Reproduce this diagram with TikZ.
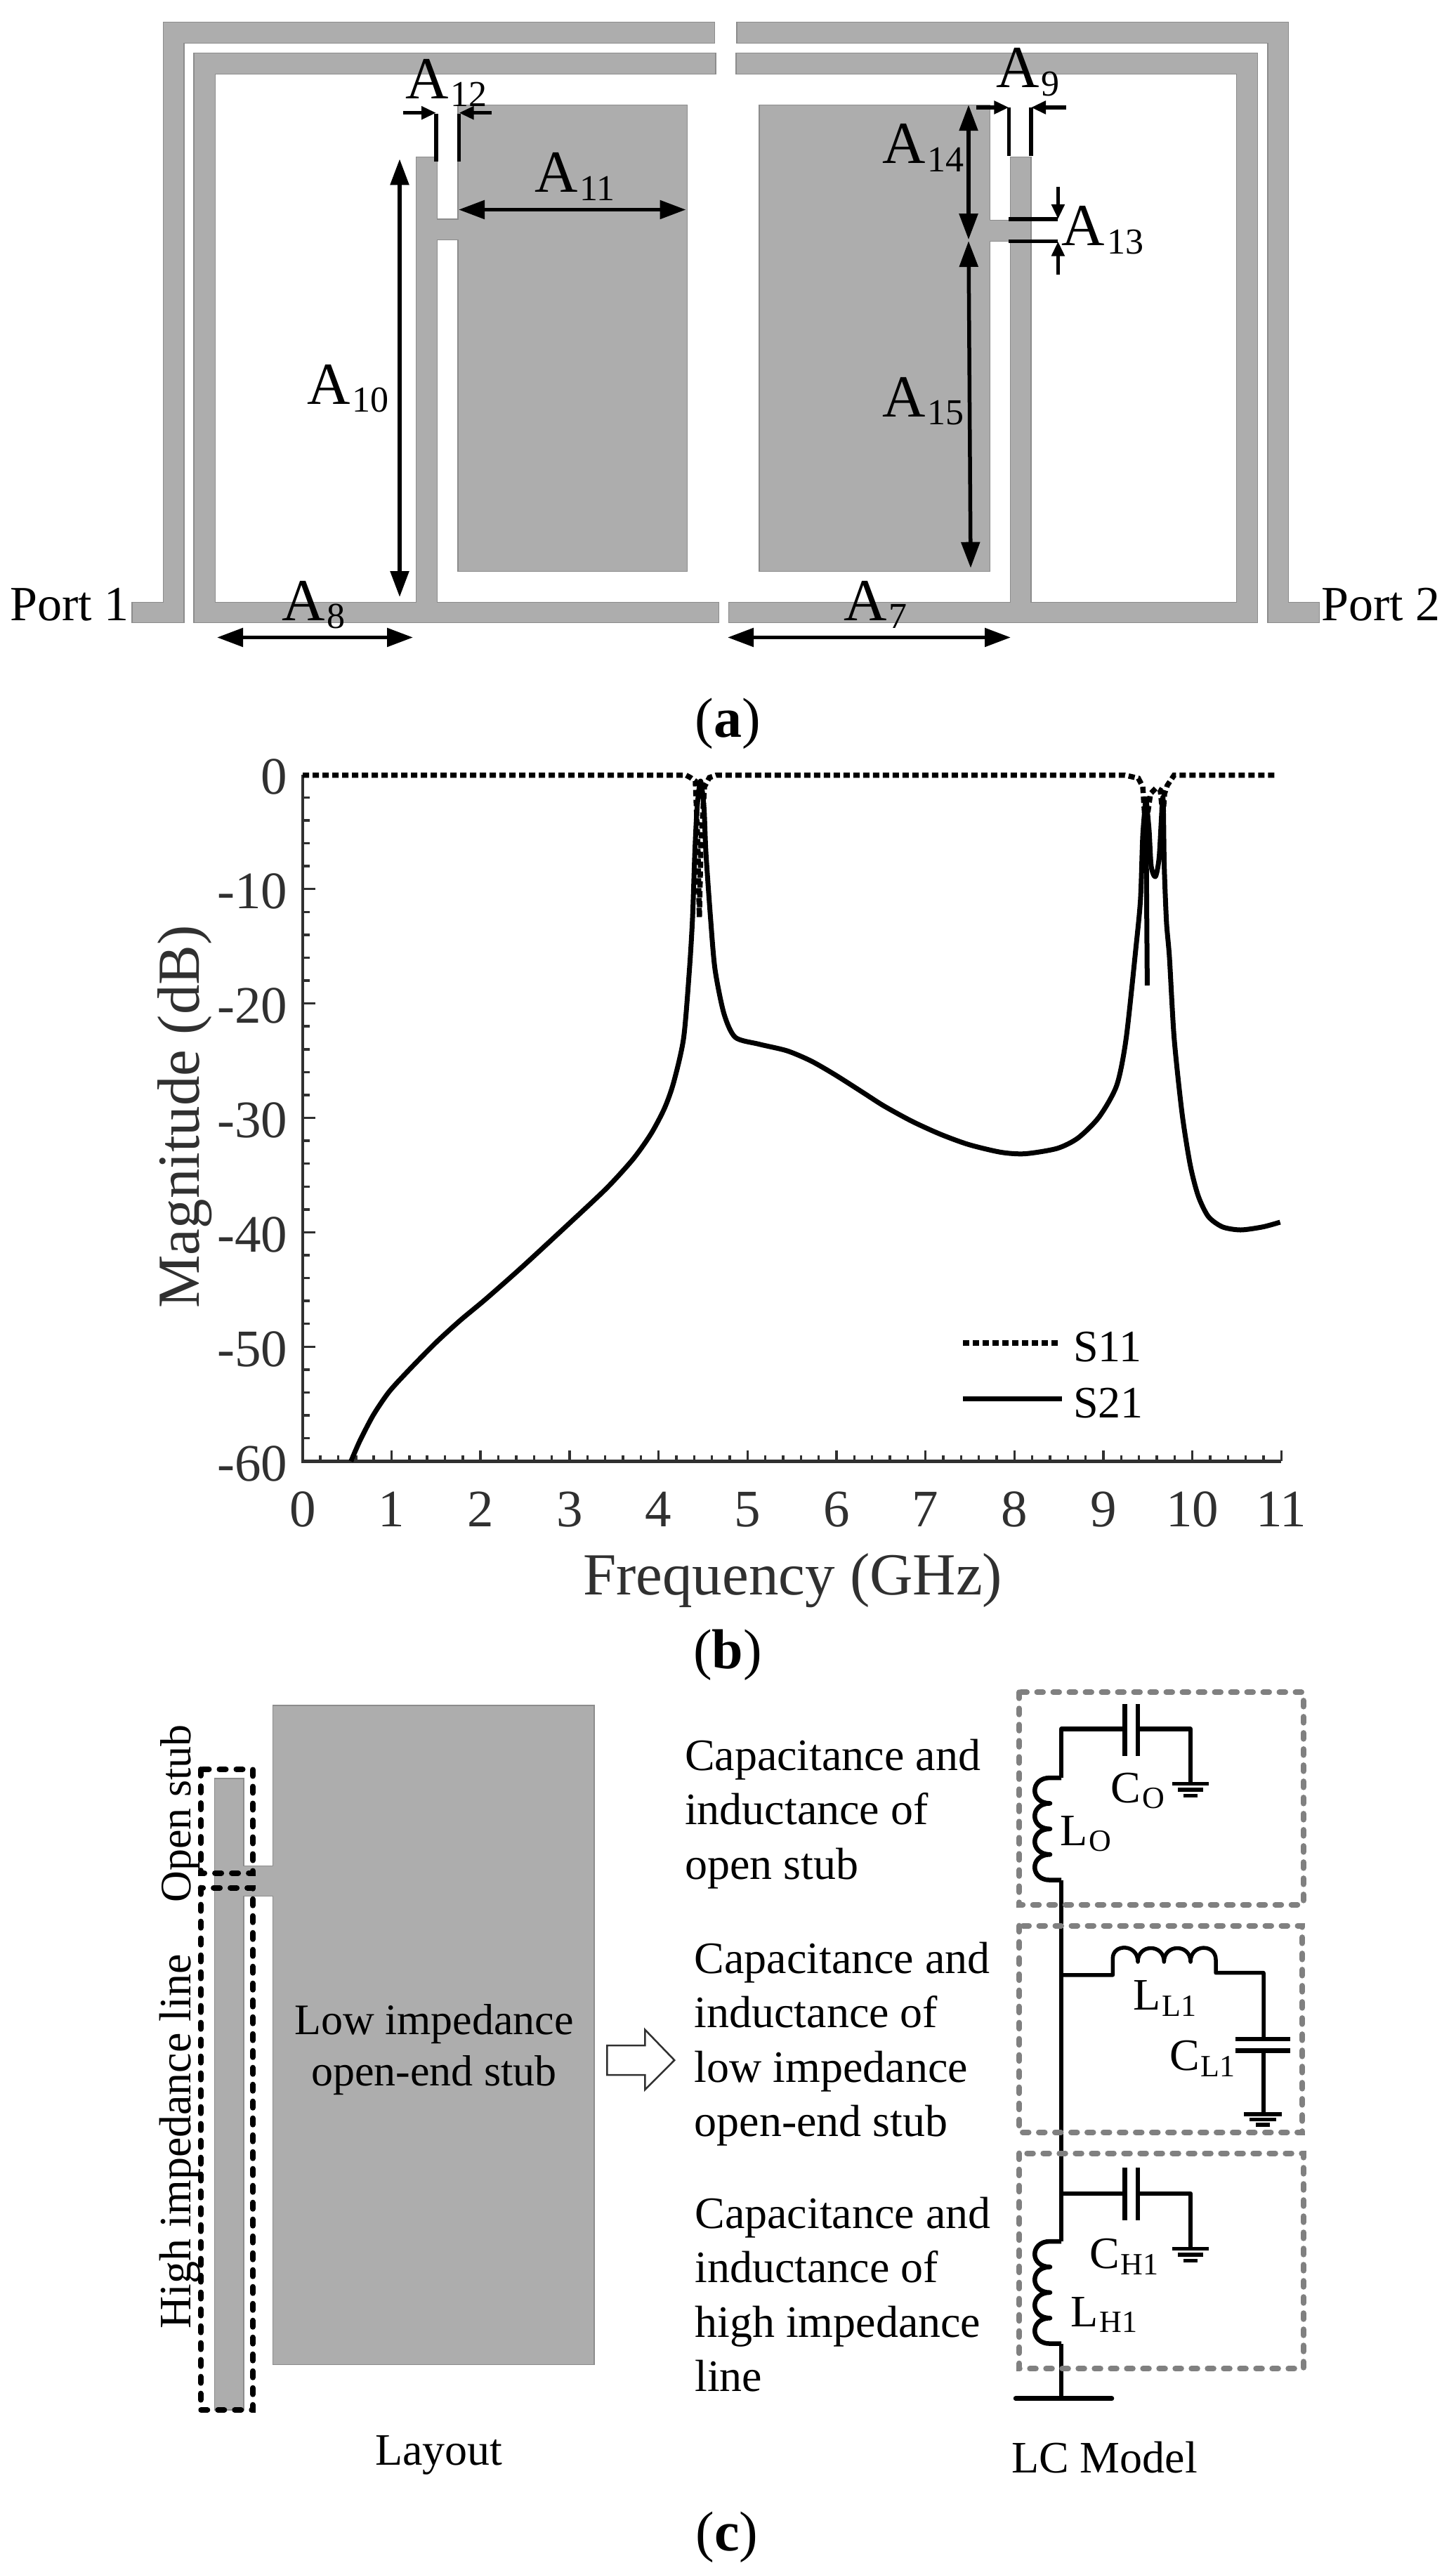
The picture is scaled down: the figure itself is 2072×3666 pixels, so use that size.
\documentclass[tikz,border=0pt]{standalone}
\usepackage{fontspec}
\setmainfont{Liberation Serif}
\usetikzlibrary{arrows.meta}
\definecolor{stripfill}{HTML}{ADADAD}
\definecolor{stripedge}{HTML}{8C8C8C}
\definecolor{axisink}{HTML}{303030}
\definecolor{boxgrey}{HTML}{808080}
\tikzset{
  strip/.style={fill=stripfill,draw=stripedge,line width=1.2pt},
  lab/.style={anchor=base west,inner sep=0pt,outer sep=0pt,font=\fontsize{#1}{#1}\selectfont},
  capt/.style={anchor=base,inner sep=0pt,outer sep=0pt,font=\fontsize{80}{80}\selectfont},
  para/.style={anchor=base west,inner sep=0pt,outer sep=0pt,align=left,font=\fontsize{64}{77.5}\selectfont},
  vlab/.style={anchor=base west,rotate=90,inner sep=0pt,outer sep=0pt,font=\fontsize{#1}{#1}\selectfont},
  ticklab/.style={inner sep=0pt,outer sep=0pt,text=axisink,font=\fontsize{75}{75}\selectfont},
  bigdim/.style={line width=5.5pt,{Triangle[length=37pt,width=26pt]}-{Triangle[length=37pt,width=26pt]}},
  smalldim/.style={line width=5.5pt,-{Triangle[length=21pt,width=18pt]}},
  extline/.style={line width=5.5pt},
  axisline/.style={draw=axisink,line width=4.5pt},
  tickline/.style={draw=axisink,line width=3.5pt},
  sdot/.style={line width=7.5pt,dash pattern=on 9pt off 5pt},
  ssolid/.style={line width=7pt},
  greybox/.style={draw=boxgrey,line width=8pt,line cap=round,dash pattern=on 8.5pt off 14.5pt},
  blackbox/.style={draw=black,line width=8pt,line cap=round,dash pattern=on 9pt off 15pt},
  wire/.style={line width=6.5pt,line join=round},
  thinwire/.style={line width=5.5pt,line join=round},
  gnd/.style={line width=5.5pt},
}
\newcommand\Asub[2]{#1\raisebox{-11.5pt}{\hspace{3pt}\fontsize{52}{52}\selectfont #2}}
\newcommand\Csub[2]{#1\raisebox{-8.5pt}{\hspace{2pt}\fontsize{44}{44}\selectfont #2}}
\newcommand\coilV[1]{%
  \draw[wire] (1511,#1) -- (1495,#1)
    .. controls (1466,#1) and (1466,{#1+36.4}) .. (1495,{#1+36.4})
    .. controls (1466,{#1+36.4}) and (1466,{#1+72.8}) .. (1495,{#1+72.8})
    .. controls (1466,{#1+72.8}) and (1466,{#1+109.2}) .. (1495,{#1+109.2})
    .. controls (1466,{#1+109.2}) and (1466,{#1+145.6}) .. (1495,{#1+145.6})
    -- (1511,{#1+145.6});}
\newcommand\gndV[4]{% x, y, half-width, bar spacing
  \draw[gnd] ({#1-#3},#2) -- ({#1+#3},#2);
  \draw[gnd] ({#1-0.7*#3},{#2+#4}) -- ({#1+0.7*#3},{#2+#4});
  \draw[gnd] ({#1-0.38*#3},{#2+2*#4}) -- ({#1+0.38*#3},{#2+2*#4});}
\begin{document}
\begin{tikzpicture}[x=1pt,y=-1pt]
\useasboundingbox[fill=white] (0,0) rectangle (2072,3666);

% ---------- panel (a): layout
\draw[strip] (188,886.5) -- (262,886.5) -- (262,61.2) -- (1017.5,61.2) -- (1017.5,31.9) -- (232.6,31.9) -- (232.6,857.8) -- (188,857.8) -- cycle;
\draw[strip] (276,75.9) -- (1019,75.9) -- (1019,105.2) -- (306.6,105.2) -- (306.6,857.8) -- (592.7,857.8) -- (592.7,223.9) -- (622.4,223.9) -- (622.4,311.9) -- (652,311.9) -- (652,149.2) -- (978.5,149.2) -- (978.5,813.1) -- (652,813.1) -- (652,341.2) -- (622.4,341.2) -- (622.4,857.8) -- (1023.5,857.8) -- (1023.5,886.5) -- (276,886.5) -- cycle;
\draw[strip] (1049,31.9) -- (1834.8,31.9) -- (1834.8,857.8) -- (1878.4,857.8) -- (1878.4,886.5) -- (1805,886.5) -- (1805,61.2) -- (1049,61.2) -- cycle;
\draw[strip] (1048,75.9) -- (1790.5,75.9) -- (1790.5,886.5) -- (1037.3,886.5) -- (1037.3,857.8) -- (1438.4,857.8) -- (1438.4,343.7) -- (1409.3,343.7) -- (1409.3,813.1) -- (1081,813.1) -- (1081,149.2) -- (1409.3,149.2) -- (1409.3,313.8) -- (1438.4,313.8) -- (1438.4,223.9) -- (1468,223.9) -- (1468,857.8) -- (1760.8,857.8) -- (1760.8,105.2) -- (1048,105.2) -- cycle;

% dimension lines left
\draw[extline] (621,162) -- (621,229.6);
\draw[extline] (653.5,162) -- (653.5,229.6);
\draw[smalldim] (573.5,160.7) -- (621,160.7);
\draw[smalldim] (700,160.7) -- (653.5,160.7);
\draw[bigdim] (569,226.4) -- (569,850);
\draw[bigdim] (653,298.5) -- (976.5,298.5);
\draw[bigdim] (309,907.5) -- (588,907.5);
% dimension lines right
\draw[extline] (1436.4,153) -- (1436.4,222);
\draw[extline] (1468,153) -- (1468,222);
\draw[smalldim] (1389.5,153) -- (1436.4,153);
\draw[smalldim] (1517.7,153) -- (1468,153);
\draw[bigdim] (1379,149.2) -- (1379,341.2);
\draw[bigdim] (1379,343) -- (1382,808.7);
\draw[extline] (1436.4,311.9) -- (1506.4,311.9);
\draw[extline] (1436.4,343.7) -- (1506.4,343.7);
\draw[smalldim] (1506.4,266) -- (1506.4,311.9);
\draw[smalldim] (1506.4,391) -- (1506.4,343.7);
\draw[bigdim] (1036,907.5) -- (1439,907.5);

\node[lab=85] (a12) at (577,140.3) {\Asub{A}{12}};
\node[lab=85] (a11) at (761,274) {\Asub{A}{11}};
\node[lab=85] (a10) at (437,575) {\Asub{A}{10}};
\node[lab=85] (a8)  at (401,883) {\Asub{A}{8}};
\node[lab=85] (a9)  at (1418,125) {\Asub{A}{9}};
\node[lab=85] (a14) at (1256,232.8) {\Asub{A}{14}};
\node[lab=85] (a15) at (1256,593) {\Asub{A}{15}};
\node[lab=85] (a13) at (1511.7,349.5) {\Asub{A}{13}};
\node[lab=85] (a7)  at (1201,883) {\Asub{A}{7}};
\node[lab=70] (p1)  at (14.5,883) {Port 1};
\node[lab=70] (p2)  at (1881.7,883) {Port 2};
\node[capt] (capa) at (1036,1049.3) {(\textbf{a})};

% ---------- panel (b): plot
\foreach \i in {1,...,29}{
  \ifnum\numexpr\i/5*5\relax=\i\relax
    \draw[tickline] (430.9,{1102.8+\i*32.58}) -- ++(18,0);
  \else
    \draw[tickline] (430.9,{1102.8+\i*32.58}) -- ++(10,0);
  \fi}
\foreach \i in {1,...,55}{
  \ifnum\numexpr\i/5*5\relax=\i\relax
    \draw[tickline] ({430.9+\i*25.334},2080.4) -- ++(0,-15);
  \else
    \draw[tickline] ({430.9+\i*25.334},2080.4) -- ++(0,-8);
  \fi}
\draw[axisline] (430.9,1102.8) -- (430.9,2080.4) -- (1824.3,2080.4);

\foreach \v/\n [count=\k from 0] in {0/yt0,-10/yt1,-20/yt2,-30/yt3,-40/yt4,-50/yt5,-60/yt6}
  \node[ticklab,anchor=base east] (\n) at (409,{1130.8+\k*162.93}) {\v};
\foreach \v [count=\k from 0] in {0,1,2,3,4,5,6,7,8,9,10,11}
  \node[ticklab,anchor=base] (xt\k) at ({430.9+\k*126.67},2173.6) {\v};

\node[vlab=85,text=axisink] (ylab) at (283,1862.6) {Magnitude (dB)};
\node[lab=85,text=axisink] (xlab) at (830,2270) {Frequency (GHz)};

% S11
\draw[sdot] (431,1103.5) -- (976.5,1103.5) -- (983,1107) -- (990,1112) -- (993.5,1200) -- (995.7,1306) -- (998,1200) -- (1003,1120) -- (1010,1107) -- (1020,1103.5) -- (1601.5,1103.5) -- (1620.7,1108) -- (1627,1120) -- (1631,1180) -- (1638,1130) -- (1646,1121.7) -- (1652,1125) -- (1655.7,1163) -- (1658,1130) -- (1662,1118) -- (1671.7,1103.5) -- (1818,1103.5);
% S21
\draw[ssolid,line join=round] plot[smooth,tension=0.45] coordinates {
(499.7,2080.4) (512.5,2051) (531.6,2014.4) (554,1981.4) (582.7,1950) (620,1912) (655,1880) (691,1850) (742,1805) (805.9,1746) (863.3,1692) (901.5,1650) (927,1614) (946,1578) (959,1541.4) (973.3,1478) (981.6,1380) (986,1306.7) (989.3,1213) (992.5,1150) (997.4,1112) (1002.3,1150) (1005,1213) (1011.6,1306.7) (1018,1380) (1030.7,1443) (1046.7,1476.7) (1080,1486.4) (1120.6,1496) (1155,1510.6) (1189.4,1530.4) (1229.6,1556) (1258.3,1574.4) (1298.5,1596.4) (1338.7,1614.7) (1378.9,1629.4) (1424.8,1640.4) (1459.2,1642.6) (1505,1635) (1535,1620) (1565,1590) (1590,1545) (1603.4,1478) (1617.5,1347) (1623.8,1280) (1627,1190) (1631.5,1134)};
\draw[ssolid,line join=round] (1631.5,1134) -- (1633.4,1403);
\draw[ssolid,line join=round] plot[smooth,tension=0.45] coordinates {
(1631.5,1134) (1636,1182) (1639,1233) (1645,1248) (1650.4,1220) (1655.7,1135) (1657.6,1233) (1660.8,1313) (1665,1363) (1671.7,1478) (1683,1585.4) (1694.6,1658.7) (1706,1702.7) (1720.4,1732) (1740.5,1746.7) (1766.4,1751) (1798,1746.7) (1822.6,1740)};
% legend
\draw[sdot] (1371.4,1911.8) -- (1508,1911.8);
\draw[ssolid] (1371.4,1991.7) -- (1512,1991.7);
\node[lab=64,text=black] (s11) at (1528,1938.9) {S11};
\node[lab=64,text=black] (s21) at (1528,2018) {S21};
\node[capt] (capb) at (1036,2375) {(\textbf{b})};

% ---------- panel (c): layout
\draw[strip] (305.6,2532) -- (347,2532) -- (347,2656.8) -- (388.3,2656.8) -- (388.3,2428) -- (846,2428) -- (846,3366.7) -- (388.3,3366.7) -- (388.3,2699.5) -- (347,2699.5) -- (347,3431) -- (305.6,3431) -- cycle;
\draw[blackbox] (285.7,2519) rectangle (360,2666.6);
\draw[blackbox] (285.7,2687.6) rectangle (360,3431);
\node[vlab=62] (open) at (271.4,2708.7) {Open stub};
\node[vlab=64] (high) at (271.4,3315.5) {High impedance line};
\node[anchor=base,inner sep=0pt,align=center,font=\fontsize{62}{73.6}\selectfont] (low) at (618,2969.6) {Low impedance\\open-end stub};
\node[lab=64] (layout) at (534,3509) {Layout};
\draw[draw=axisink,fill=white,line width=2.5pt,line join=miter] (864.3,2912) -- (918.4,2912) -- (918.4,2889.7) -- (960.2,2933) -- (918.4,2975) -- (918.4,2954) -- (864.3,2954) -- cycle;

\node[para] (t1) at (975,2675) {Capacitance and\\inductance of\\open stub};
\node[para] (t2) at (988.6,3041.9) {Capacitance and\\inductance of\\low impedance\\open-end stub};
\node[para] (t3) at (989.3,3404.6) {Capacitance and\\inductance of\\high impedance\\line};

% ---------- panel (c): LC model
\draw[wire] (1511,2531) -- (1511,2461.6) -- (1603,2461.6);
\draw[wire] (1601.7,2426) -- (1601.7,2500);
\draw[wire] (1620,2426) -- (1620,2500);
\draw[wire] (1620,2461.6) -- (1695,2461.6) -- (1695,2539.4);
\gndV{1695}{2539.4}{25.7}{8.5}
\coilV{2531}
\draw[wire] (1511,2676.6) -- (1511,3191);
\draw[thinwire] (1511,2811.8) -- (1584.3,2811.8) -- (1584.3,2788)
  .. controls (1584.3,2767) and (1620,2767) .. (1620,2793)
  .. controls (1620,2767) and (1657.3,2767) .. (1657.3,2793)
  .. controls (1657.3,2767) and (1695,2767) .. (1695,2793)
  .. controls (1695,2767) and (1731,2767) .. (1731,2790)
  -- (1731,2808.6) -- (1799,2808.6) -- (1799,2903);
\draw[wire] (1759.3,2903) -- (1836.7,2903);
\draw[wire] (1759.3,2919.5) -- (1836.7,2919.5);
\draw[wire] (1799,2919.5) -- (1799,3010);
\gndV{1798}{3010}{27}{7.5}
\draw[thinwire] (1511,3123) -- (1603,3123);
\draw[wire] (1601.7,3086) -- (1601.7,3161);
\draw[wire] (1620,3086) -- (1620,3161);
\draw[wire] (1620,3123) -- (1695,3123) -- (1695,3201.4);
\gndV{1695}{3201.4}{25.7}{8.5}
\coilV{3191}
\draw[wire] (1511,3336.6) -- (1511,3414.7);
\draw[line width=6.5pt,line cap=round] (1446,3414.7) -- (1583,3414.7);

\draw[greybox] (1451,2409.3) rectangle (1855.7,2711.6);
\draw[greybox] (1451,2741.6) rectangle (1854,3035.6);
\draw[greybox] (1451,3065.6) rectangle (1855.7,3372.3);

\node[lab=64] (co)  at (1581.7,2566.2) {\Csub{C}{O}};
\node[lab=64] (lo)  at (1509.3,2627.4) {\Csub{L}{O}};
\node[lab=64] (ll1) at (1613.3,2861.5) {\Csub{L}{L1}};
\node[lab=64] (cl1) at (1665,2947.6) {\Csub{C}{L1}};
\node[lab=64] (ch1) at (1551,3229.5) {\Csub{C}{H1}};
\node[lab=64] (lh1) at (1524.3,3312.4) {\Csub{L}{H1}};
\node[lab=64] (lcm) at (1440,3520.7) {LC Model};
\node[capt] (capc) at (1035,3631.7) {(\textbf{c})};
\end{tikzpicture}
\end{document}
